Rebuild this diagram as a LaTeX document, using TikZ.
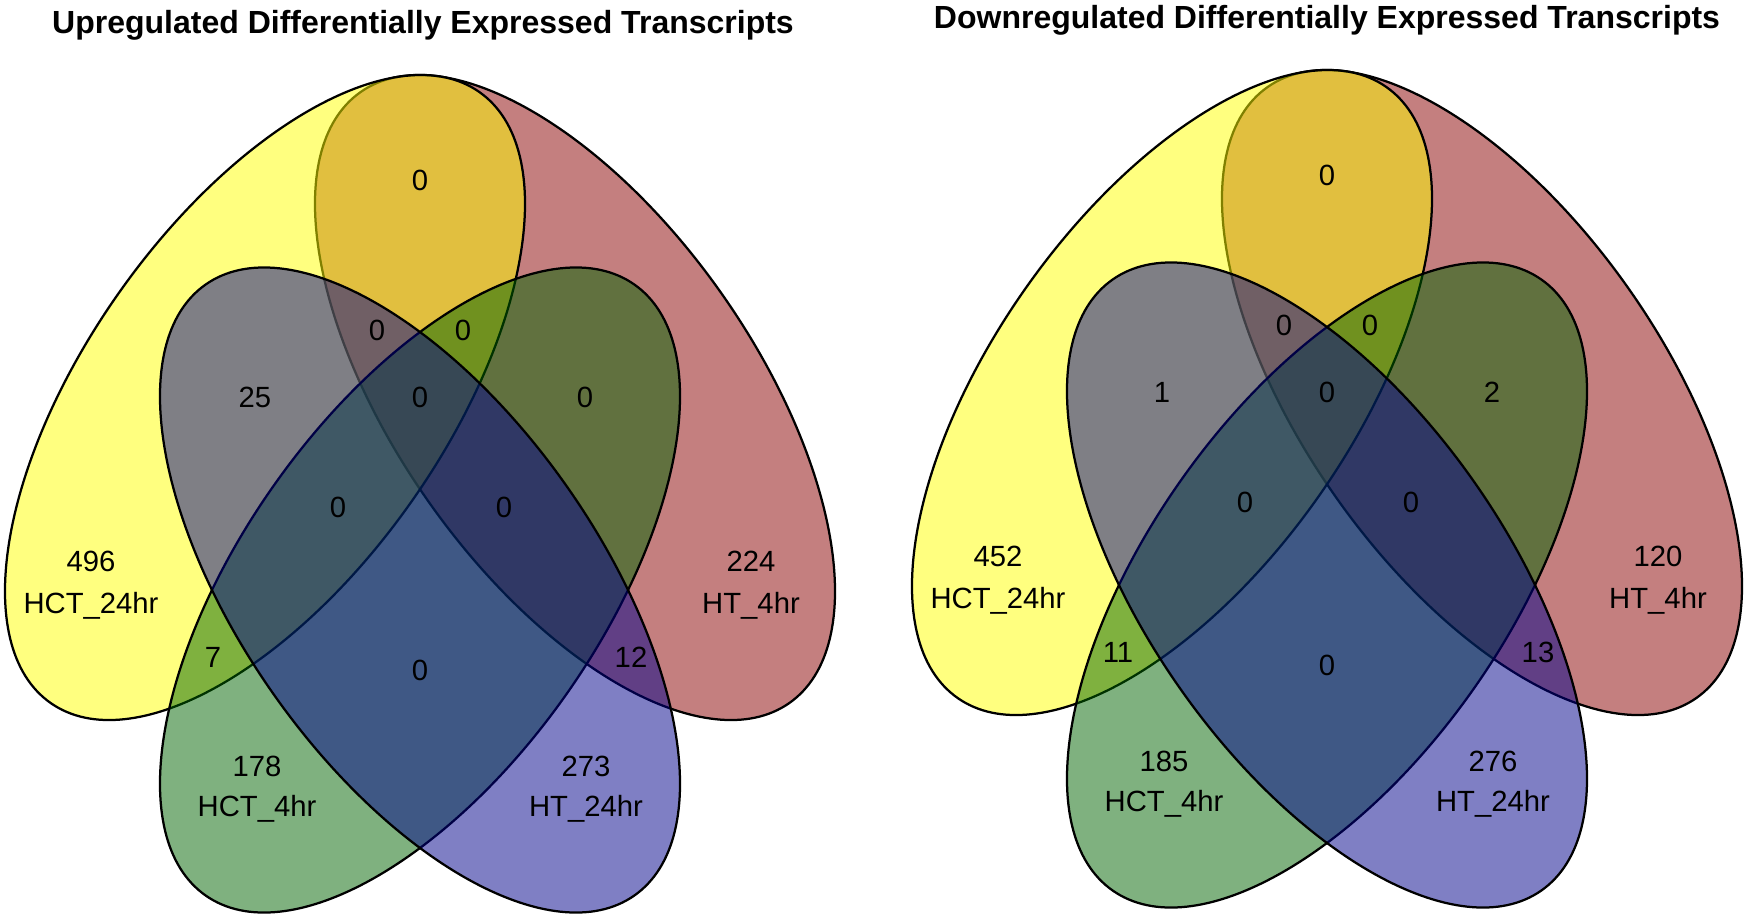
\documentclass[tikz,border=0pt]{standalone}
\usepackage{fontspec}
\setmainfont{Liberation Sans}
\definecolor{vred}{RGB}{139,0,0}
\definecolor{vyellow}{RGB}{255,255,0}
\definecolor{vgreen}{RGB}{0,100,0}
\definecolor{vblue}{RGB}{0,0,139}
\newcommand\vennEllipses{%
  \filldraw[venn, fill=vred, rotate around={125.06:(575,-397.5)}] (575,-397.5) ellipse [x radius=373.2, y radius=179.7];
  \filldraw[venn, fill=vyellow, rotate around={54.94:(265,-397.5)}] (265,-397.5) ellipse [x radius=373.2, y radius=179.7];
  \filldraw[venn, fill=vgreen, rotate around={54.94:(420,-590)}] (420,-590) ellipse [x radius=373.2, y radius=179.7];
  \filldraw[venn, fill=vblue, rotate around={125.06:(420,-590)}] (420,-590) ellipse [x radius=373.2, y radius=179.7];
}
\begin{document}
\begin{tikzpicture}[x=0.4pt,y=0.4pt,
  venn/.style={line width=0.9pt, draw=black, fill opacity=0.5},
  num/.style={font=\fontsize{11.7}{14}\selectfont, inner sep=0pt, text depth=0pt},
  ttl/.style={font=\fontsize{12.8}{15}\selectfont\bfseries, inner sep=0pt, anchor=base}]
\useasboundingbox (0,0) rectangle (1749,-916);
\fill[white] (0,0) rectangle (1749,-916);

% ---------- left panel ----------
\node[ttl] (tL) at (423,-33) {Upregulated Differentially Expressed Transcripts};
\vennEllipses
\node[num] (L1) at (420,-180) {0};
\node[num] (L2) at (377,-330) {0};
\node[num] (L3) at (463,-330) {0};
\node[num] (L4) at (255,-397) {25};
\node[num] (L5) at (420,-397) {0};
\node[num] (L6) at (585,-397) {0};
\node[num] (L7) at (338,-507) {0};
\node[num] (L8) at (504,-507) {0};
\node[num] (L9) at (91,-561) {496};
\node[num] (L9n) at (91,-603) {HCT\_24hr};
\node[num] (L10) at (751,-561) {224};
\node[num] (L10n) at (751,-603) {HT\_4hr};
\node[num] (L11) at (213,-657) {7};
\node[num] (L12) at (631,-657) {12};
\node[num] (L13) at (420,-670) {0};
\node[num] (L14) at (257,-766) {178};
\node[num] (L14n) at (257,-806) {HCT\_4hr};
\node[num] (L15) at (586,-766) {273};
\node[num] (L15n) at (586,-806) {HT\_24hr};

% ---------- right panel ----------
\begin{scope}[shift={(907,5)}]
\node[ttl] (tR) at (420,-33) {Downregulated Differentially Expressed Transcripts};
\vennEllipses
\node[num] (R1) at (420,-180) {0};
\node[num] (R2) at (377,-330) {0};
\node[num] (R3) at (463,-330) {0};
\node[num] (R4) at (255,-397) {1};
\node[num] (R5) at (420,-397) {0};
\node[num] (R6) at (585,-397) {2};
\node[num] (R7) at (338,-507) {0};
\node[num] (R8) at (504,-507) {0};
\node[num] (R9) at (91,-561) {452};
\node[num] (R9n) at (91,-603) {HCT\_24hr};
\node[num] (R10) at (751,-561) {120};
\node[num] (R10n) at (751,-603) {HT\_4hr};
\node[num] (R11) at (211,-657) {11};
\node[num] (R12) at (631,-657) {13};
\node[num] (R13) at (420,-670) {0};
\node[num] (R14) at (257,-766) {185};
\node[num] (R14n) at (257,-806) {HCT\_4hr};
\node[num] (R15) at (586,-766) {276};
\node[num] (R15n) at (586,-806) {HT\_24hr};
\end{scope}
\end{tikzpicture}
\end{document}
